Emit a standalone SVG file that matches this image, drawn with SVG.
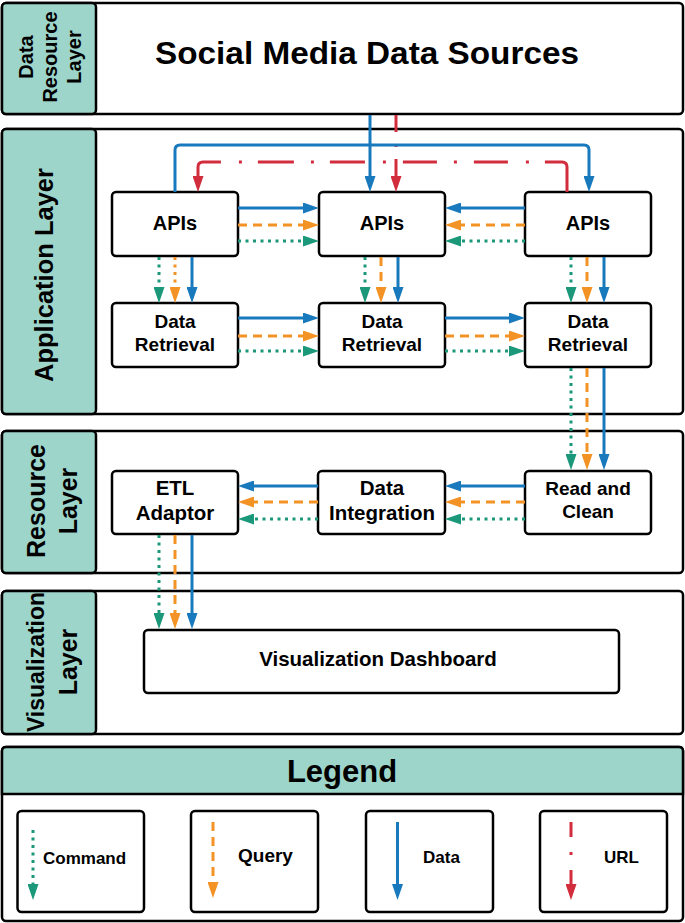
<svg xmlns="http://www.w3.org/2000/svg" width="685" height="923" viewBox="0 0 685 923">
<style>
text{font-family:"Liberation Sans",Arial,sans-serif;font-weight:bold;fill:#000}
.layer{fill:#fff;stroke:#000;stroke-width:2.5}
.panel{fill:#9dd5ca;stroke:#000;stroke-width:2.5}
.box{fill:#fff;stroke:#000;stroke-width:2.5}
.c{fill:none;stroke-width:3}
.b{stroke:#1879bd;marker-end:url(#ab)}
.o{stroke:#f39325;stroke-dasharray:9 6;marker-end:url(#ao)}
.od{stroke:#f39325;stroke-dasharray:3 4.5;marker-end:url(#ao)}
.g{stroke:#1b987a;stroke-dasharray:3 4.5;marker-end:url(#ag)}
.r{stroke:#d12d3c;marker-end:url(#ar)}
.mid{text-anchor:middle}
</style>
<defs>
<marker id="ab" markerUnits="userSpaceOnUse" markerWidth="16" markerHeight="11" refX="8" refY="5.5" orient="auto"><path d="M0,0 L16,5.5 L0,11 z" fill="#1879bd"/></marker>
<marker id="ao" markerUnits="userSpaceOnUse" markerWidth="16" markerHeight="11" refX="8" refY="5.5" orient="auto"><path d="M0,0 L16,5.5 L0,11 z" fill="#f39325"/></marker>
<marker id="ag" markerUnits="userSpaceOnUse" markerWidth="16" markerHeight="11" refX="8" refY="5.5" orient="auto"><path d="M0,0 L16,5.5 L0,11 z" fill="#1b987a"/></marker>
<marker id="ar" markerUnits="userSpaceOnUse" markerWidth="16" markerHeight="11" refX="8" refY="5.5" orient="auto"><path d="M0,0 L16,5.5 L0,11 z" fill="#d12d3c"/></marker>
<clipPath id="clipVis"><rect x="2" y="591" width="94" height="143"/></clipPath>
</defs>

<g id="layer-data-resource">
<rect class="layer" x="2" y="3" width="681" height="111" rx="4"/>
<rect class="panel" x="2" y="3" width="94" height="111" rx="4"/>
<text class="mid" transform="rotate(-90)" x="-57" y="33" font-size="20">Data</text>
<text class="mid" transform="rotate(-90)" x="-57" y="57" font-size="20">Resource</text>
<text class="mid" transform="rotate(-90)" x="-57" y="81" font-size="20">Layer</text>
</g>
<g id="social-media-data-sources">
<text class="mid" x="367" y="64" font-size="31" textLength="424" lengthAdjust="spacingAndGlyphs">Social Media Data Sources</text>
</g>

<g id="layer-application">
<rect class="layer" x="2" y="129" width="681" height="285" rx="4"/>
<rect class="panel" x="2" y="129" width="94" height="285" rx="4"/>
<text class="mid" transform="rotate(-90)" x="-275" y="53" font-size="25.5">Application Layer</text>
</g>

<g id="layer-resource">
<rect class="layer" x="2" y="431" width="681" height="142" rx="4"/>
<rect class="panel" x="2" y="431" width="94" height="142" rx="4"/>
<text class="mid" transform="rotate(-90)" x="-501" y="45" font-size="25">Resource</text>
<text class="mid" transform="rotate(-90)" x="-501" y="77" font-size="25">Layer</text>
</g>

<g id="layer-visualization">
<rect class="layer" x="2" y="591" width="681" height="143" rx="4"/>
<rect class="panel" x="2" y="591" width="94" height="143" rx="4"/>
<g clip-path="url(#clipVis)">
<text class="mid" transform="rotate(-90)" x="-662" y="44" font-size="23">Visualization</text>
</g>
<text class="mid" transform="rotate(-90)" x="-662" y="77" font-size="25">Layer</text>
</g>

<g id="apis-1"><rect class="box" x="112" y="192" width="126" height="64" rx="4"/><text class="mid" x="175" y="230" font-size="20">APIs</text></g>
<g id="apis-2"><rect class="box" x="319" y="192" width="126" height="64" rx="4"/><text class="mid" x="382" y="230" font-size="20">APIs</text></g>
<g id="apis-3"><rect class="box" x="525" y="192" width="126" height="64" rx="4"/><text class="mid" x="588" y="230" font-size="20">APIs</text></g>

<g id="data-retrieval-1"><rect class="box" x="112" y="303" width="126" height="64" rx="4"/><text class="mid" x="175" y="328" font-size="19">Data</text><text class="mid" x="175" y="351" font-size="19">Retrieval</text></g>
<g id="data-retrieval-2"><rect class="box" x="319" y="303" width="126" height="64" rx="4"/><text class="mid" x="382" y="328" font-size="19">Data</text><text class="mid" x="382" y="351" font-size="19">Retrieval</text></g>
<g id="data-retrieval-3"><rect class="box" x="525" y="303" width="126" height="64" rx="4"/><text class="mid" x="588" y="328" font-size="19">Data</text><text class="mid" x="588" y="351" font-size="19">Retrieval</text></g>

<g id="etl-adaptor"><rect class="box" x="112" y="471" width="126" height="63" rx="4"/><text class="mid" x="175" y="495" font-size="20.5">ETL</text><text class="mid" x="175" y="520" font-size="20.5">Adaptor</text></g>
<g id="data-integration"><rect class="box" x="318" y="471" width="127" height="63" rx="4"/><text class="mid" x="382" y="495" font-size="20.5">Data</text><text class="mid" x="382" y="520" font-size="20.5">Integration</text></g>
<g id="read-and-clean"><rect class="box" x="525" y="471" width="126" height="63" rx="4"/><text class="mid" x="588" y="495" font-size="19">Read and</text><text class="mid" x="588" y="518" font-size="19">Clean</text></g>

<g id="visualization-dashboard"><rect class="box" x="144" y="630" width="475" height="63" rx="4"/><text class="mid" x="378" y="666" font-size="20.5">Visualization Dashboard</text></g>

<g id="connectors">
<path class="c b" d="M370,115 V184"/>
<path class="c r" d="M396,115 V184" stroke-dasharray="17 12 3 12"/>
<path class="c b" d="M175,192 V150 Q175,145 180,145 H584 Q589,145 589,150 V184"/>
<path class="c r" d="M567,192 V167 Q567,162 562,162 H203 Q198,162 198,167 V184" stroke-dasharray="50 16 3 18 34 17 3 17 34 17 3 18 35 16 3 17 36 16 3 18 100"/>

<path class="c b" d="M238,208 H311"/>
<path class="c o" d="M238,225 H311"/>
<path class="c g" d="M238,241 H311"/>
<path class="c b" d="M525,208 H453"/>
<path class="c o" d="M525,225 H453"/>
<path class="c g" d="M525,241 H453"/>

<path class="c g" d="M159,257 V295"/>
<path class="c od" d="M175,257 V295"/>
<path class="c b" d="M192,257 V295"/>
<path class="c g" d="M365,257 V295"/>
<path class="c o" d="M381,257 V295"/>
<path class="c b" d="M398,257 V295"/>
<path class="c g" d="M571,257 V295"/>
<path class="c o" d="M587,257 V295"/>
<path class="c b" d="M604,257 V295"/>

<path class="c b" d="M238,318 H311"/>
<path class="c o" d="M238,336 H311"/>
<path class="c g" d="M238,351 H311"/>
<path class="c b" d="M445,318 H517"/>
<path class="c o" d="M445,336 H517"/>
<path class="c g" d="M445,351 H517"/>

<path class="c g" d="M571,368 V462"/>
<path class="c o" d="M587,368 V462"/>
<path class="c b" d="M604,368 V462"/>

<path class="c b" d="M525,486 H453"/>
<path class="c o" d="M525,502 H453"/>
<path class="c g" d="M525,519 H453"/>
<path class="c b" d="M318,486 H246"/>
<path class="c o" d="M318,502 H246"/>
<path class="c g" d="M318,519 H246"/>

<path class="c g" d="M159,535 V621"/>
<path class="c o" d="M175,535 V621"/>
<path class="c b" d="M192,535 V621"/>
</g>

<g id="legend">
<rect class="layer" x="2" y="747" width="681" height="174" rx="4"/>
<path d="M2,794 V751 Q2,747 6,747 H679 Q683,747 683,751 V794 Z" fill="#9dd5ca" stroke="#000" stroke-width="2.5"/>
<text class="mid" x="342" y="782" font-size="31">Legend</text>
</g>
<g id="legend-command">
<rect class="box" x="17.5" y="811" width="126.5" height="101" rx="4"/>
<path class="c g" d="M33,830 V892"/>
<text x="43" y="864" font-size="17">Command</text>
</g>
<g id="legend-query">
<rect class="box" x="191" y="811" width="127" height="101" rx="4"/>
<path class="c o" d="M213,822 V890"/>
<text x="238" y="862" font-size="19">Query</text>
</g>
<g id="legend-data">
<rect class="box" x="366" y="811" width="127" height="101" rx="4"/>
<path class="c b" d="M397.5,822 V892"/>
<text x="423" y="863" font-size="17">Data</text>
</g>
<g id="legend-url">
<rect class="box" x="540" y="811" width="127" height="101" rx="4"/>
<path class="c r" d="M571,822 V892" stroke-dasharray="15 15 3 15"/>
<text x="604" y="863" font-size="17">URL</text>
</g>
</svg>
